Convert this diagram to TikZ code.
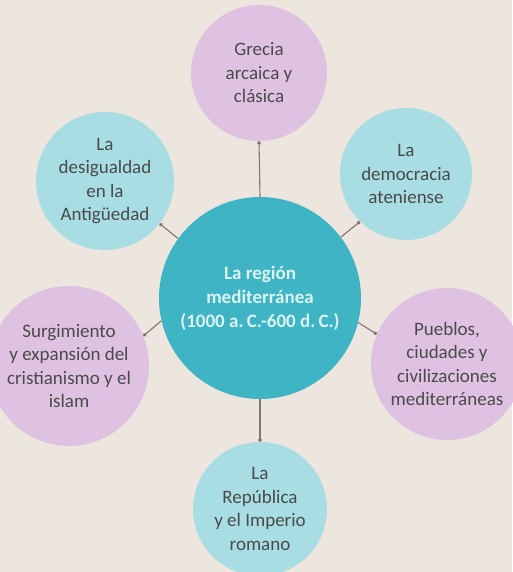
\documentclass[tikz,border=0pt]{standalone}
\usepackage{fontspec}
\setmainfont{Carlito}
\usetikzlibrary{positioning,arrows.meta}

\definecolor{paper}{HTML}{EDE6DE}
\definecolor{lilac}{HTML}{DFC2E1}
\definecolor{aqua}{HTML}{A7DDE3}
\definecolor{teal}{HTML}{3EB4C5}
\definecolor{ink}{HTML}{4A4A4A}
\definecolor{pale}{HTML}{DDF3F1}
\definecolor{stem}{HTML}{857472}

\begin{document}
\begin{tikzpicture}[x=1pt,y=-1pt,
        bubble/.style={circle,inner sep=0pt,align=center,text=ink,
          font=\fontsize{19}{23.5}\selectfont},
        lilacbub/.style={bubble,fill=lilac,minimum size=#1},
        aquabub/.style={bubble,fill=aqua,minimum size=#1},
        link/.style={draw=stem,line width=1.1pt,-{Circle[length=3.6pt]}}]
        %% Page and background.
        \useasboundingbox (0,0) rectangle (512,572);
        \fill[paper] (0,0) rectangle (512,572);

        % Central topic.
        \node[bubble,fill=teal,minimum size=202pt,text=pale,
          font=\fontsize{19}{24}\selectfont\bfseries] (hub) at (260,298)
          {La región\\mediterránea\\(1000 a.\,C.-600 d.\,C.)};

        % Outer topics.
        \node[lilacbub=136pt] (grecia) at (259,73) {Grecia\\arcaica y\\clásica};
        \node[aquabub=138pt] (desig) at (105,181) {La\\desigualdad\\en la\\Antigüedad};
        \node[aquabub=132pt] (democ) at (406,174) {La\\democracia\\ateniense};
        \node[lilacbub=160pt] (surg) at (69,366) {Surgimiento\\y expansión del\\cristianismo y el\\islam};
        \node[lilacbub=152pt] (pueblos) at (447,364) {Pueblos,\\ciudades y\\civilizaciones\\mediterráneas};
        \node[aquabub=134pt] (repub) at (260,509) {La\\República\\y el Imperio\\romano};

        % Links from the hub.
        \foreach \from/\to/\at in {90/grecia/270,144/desig/322,37/democ/226,
          193.6/surg/22,346/pueblos/157,270/repub/90} {
          \draw[link] (hub.\from) -- (\to.\at);
        }
      \end{tikzpicture}
\end{document}
